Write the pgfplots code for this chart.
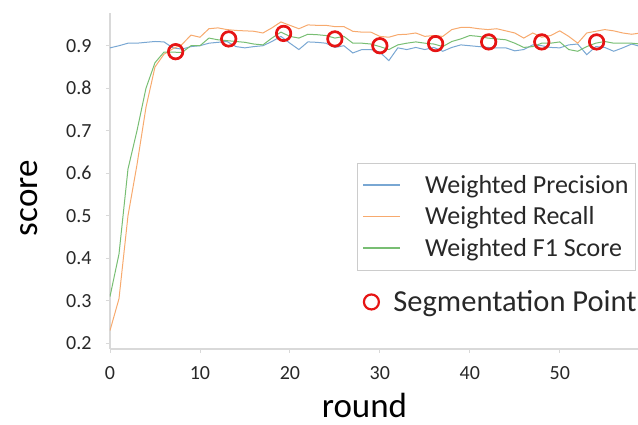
\documentclass[border=0pt]{standalone}
\usepackage{fontspec}
\setmainfont{Carlito}
\usepackage{pgfplots}
\usepackage{pgfplotstable}
\pgfplotsset{compat=1.18}
\definecolor{cblue}{RGB}{121,167,211}
\definecolor{corange}{RGB}{247,170,110}
\definecolor{cgreen}{RGB}{120,190,115}
\definecolor{cred}{RGB}{230,20,20}
\definecolor{ctext}{RGB}{40,40,40}
\pgfplotstableread{
r p rc f
0 0.895 0.230 0.310
1 0.900 0.305 0.410
2 0.906 0.500 0.610
3 0.906 0.620 0.700
4 0.908 0.755 0.800
5 0.910 0.850 0.860
6 0.909 0.880 0.885
7 0.895 0.893 0.885
8 0.892 0.903 0.884
9 0.898 0.925 0.900
10 0.900 0.920 0.900
11 0.906 0.940 0.918
12 0.908 0.942 0.914
13 0.910 0.938 0.912
14 0.898 0.936 0.910
15 0.895 0.935 0.908
16 0.898 0.934 0.904
17 0.900 0.930 0.902
18 0.910 0.942 0.918
19 0.922 0.956 0.932
20 0.906 0.948 0.922
21 0.891 0.940 0.918
22 0.909 0.949 0.927
23 0.908 0.948 0.926
24 0.906 0.948 0.924
25 0.896 0.945 0.918
26 0.900 0.945 0.922
27 0.883 0.934 0.906
28 0.891 0.932 0.906
29 0.891 0.932 0.904
30 0.885 0.922 0.898
31 0.865 0.920 0.891
32 0.895 0.926 0.902
33 0.891 0.927 0.906
34 0.896 0.930 0.909
35 0.891 0.922 0.906
36 0.896 0.924 0.904
37 0.887 0.922 0.898
38 0.896 0.938 0.910
39 0.902 0.943 0.916
40 0.900 0.943 0.924
41 0.898 0.940 0.922
42 0.896 0.938 0.918
43 0.895 0.940 0.916
44 0.895 0.935 0.914
45 0.888 0.930 0.906
46 0.891 0.918 0.896
47 0.902 0.930 0.898
48 0.900 0.920 0.906
49 0.896 0.924 0.906
50 0.895 0.935 0.909
51 0.902 0.922 0.891
52 0.904 0.906 0.887
53 0.879 0.930 0.898
54 0.898 0.934 0.906
55 0.896 0.938 0.910
56 0.887 0.935 0.906
57 0.895 0.930 0.906
58 0.904 0.927 0.906
59 0.898 0.930 0.904
}\datatable
\pgfplotstableread{
r s
7.3 0.886
13.2 0.916
19.3 0.929
25.0 0.916
30.0 0.900
36.2 0.905
42.1 0.909
48.0 0.909
54.1 0.909
}\segtable
\pgfplotsset{
  common/.style={
    at={(0,0)}, anchor=south west,
    scale only axis, width=528pt, height=336pt,
    xmin=0, xmax=58.7, ymin=0.1866, ymax=0.977,
  }
}
\begin{document}
\begin{tikzpicture}
\useasboundingbox (-110pt,-76pt) rectangle (528pt,349pt);
\begin{axis}[
  common,
  axis lines*=left,
  axis line style={draw=black!15, line width=1.2pt},
  tick style={draw=black!15, line width=0.8pt},
  tick align=outside,
  major tick length=4pt,
  xtick={0,10,20,30,40,50},
  ytick={0.2,0.3,0.4,0.5,0.6,0.7,0.8,0.9},
  /pgf/number format/assume math mode=true,
  ticklabel style={font=\fontsize{20}{24}\selectfont, text=ctext},
  yticklabel style={/pgf/number format/.cd, fixed, fixed zerofill, precision=1, /tikz/.cd, xshift=-11pt},
  xticklabel style={yshift=-10pt},
  xlabel={round},
  ylabel={score},
  xlabel style={font=\fontsize{35}{40}\selectfont, text=black, at={(axis description cs:0.482,0)}, anchor=center, yshift=-56pt},
  ylabel style={font=\fontsize{35}{40}\selectfont, text=black, at={(axis description cs:0,0.449)}, anchor=center, yshift=81pt},
  legend style={at={(rel axis cs:0.468,0.554)}, anchor=north west, draw=black!20, line width=0.8pt,
    font=\fontsize{26}{31}\selectfont, text=ctext, inner xsep=5pt, inner ysep=10pt, row sep=8pt, cells={anchor=west}},
  legend image code/.code={\draw[#1, line width=1.4pt] (0pt,0pt) -- (37pt,0pt); \path[draw=none, fill=none] (0pt,0pt) -- (60pt,0pt);},
]
\addplot[cblue, line width=1pt, mark=none] table[x=r, y=p] {\datatable};
\addlegendentry{Weighted Precision}
\addplot[corange, line width=1pt, mark=none] table[x=r, y=rc] {\datatable};
\addlegendentry{Weighted Recall}
\addplot[cgreen, line width=1pt, mark=none] table[x=r, y=f] {\datatable};
\addlegendentry{Weighted F1 Score}
\addplot[cred, only marks, mark=o, mark size=7pt, line width=2.2pt, forget plot] table[x=r, y=s] {\segtable};
\end{axis}
\begin{axis}[
  common,
  hide axis,
  legend style={at={(rel axis cs:0.472,0.14)}, anchor=west, draw=none, fill=none,
    font=\fontsize{30.5}{36}\selectfont, text=ctext, cells={anchor=west}},
  legend image code/.code={\draw[#1] plot coordinates {(9pt,0pt)}; \path[draw=none, fill=none] (0pt,0pt) -- (29pt,0pt);},
]
\addplot[cred, only marks, mark=o, mark size=7.5pt, line width=2.2pt] table[x=r, y=s] {\segtable};
\addlegendentry{Segmentation Point}
\end{axis}
\end{tikzpicture}
\end{document}
